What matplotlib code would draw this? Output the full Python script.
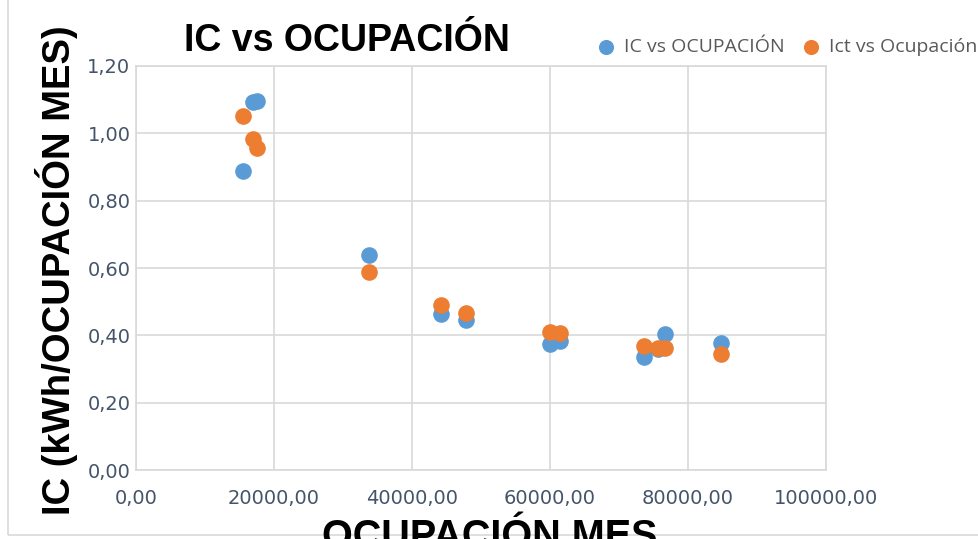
import matplotlib.pyplot as plt
from matplotlib.ticker import FuncFormatter, MultipleLocator
from matplotlib.patches import Rectangle

# Datos
ocupacion = [15500, 16950, 17550, 33750, 44200, 47850, 60000, 61450, 73600, 75650, 76650, 84800]
ic = [0.888, 1.093, 1.096, 0.639, 0.462, 0.446, 0.374, 0.383, 0.337, 0.360, 0.404, 0.376]
ict = [1.051, 0.983, 0.956, 0.588, 0.491, 0.467, 0.410, 0.406, 0.369, 0.362, 0.362, 0.345]

tick_font = ['DejaVu Sans Condensed', 'DejaVu Sans']
tick_color = '#44546A'
bold_font = ['Liberation Sans', 'DejaVu Sans']

fig = plt.figure(figsize=(9.79, 5.39), dpi=100)
ax = fig.add_axes([136 / 979, 1 - 470 / 539, 690 / 979, 404 / 539])

ax.scatter(ocupacion, ic, s=120, color='#5B9BD5', label='IC vs OCUPACIÓN', zorder=3)
ax.scatter(ocupacion, ict, s=120, color='#ED7D31', label='Ict vs Ocupación', zorder=4)

ax.set_xlim(0, 100000)
ax.set_ylim(0, 1.2)
ax.xaxis.set_major_locator(MultipleLocator(20000))
ax.yaxis.set_major_locator(MultipleLocator(0.2))
ax.xaxis.set_major_formatter(FuncFormatter(lambda v, p: f'{v:.2f}'.replace('.', ',')))
ax.yaxis.set_major_formatter(FuncFormatter(lambda v, p: f'{v:.2f}'.replace('.', ',')))
ax.grid(True, color='#D9D9D9', linewidth=1.2, zorder=0)
ax.set_axisbelow(True)
for s in ax.spines.values():
    s.set_color('#D9D9D9')
    s.set_linewidth(1.2)
ax.tick_params(length=0, colors=tick_color, labelsize=14)
ax.tick_params(axis='x', pad=14)
ax.tick_params(axis='y', pad=4)
for lab in ax.get_xticklabels() + ax.get_yticklabels():
    lab.set_family(tick_font)

# Etiquetas de ejes (grandes, superpuestas como en el original)
fig.text(57 / 979, 1 - 270 / 539, 'IC (kWh/OCUPACIÓN MES)', fontsize=27.5, fontweight='bold',
         rotation=90, ha='center', va='center', family=bold_font)
fig.text(490 / 979, 1 - 518 / 539, 'OCUPACIÓN MES', fontsize=28.5, fontweight='bold',
         ha='center', va='top', family=bold_font)

fig.text(347 / 979, 1 - 41 / 539, 'IC vs OCUPACIÓN', fontsize=27, fontweight='bold',
         ha='center', va='center', family=bold_font)

fig.legend(loc='center', bbox_to_anchor=(782 / 979, 1 - 47 / 539), ncol=2,
           frameon=False, handletextpad=-0.1, columnspacing=0.4,
           markerscale=0.9, labelcolor='#595959',
           prop={'family': ['Open Sans', 'DejaVu Sans'], 'size': 14})

fig.patches.append(Rectangle((8 / 979, 4 / 539), 1, 1, transform=fig.transFigure,
                             fill=False, edgecolor='#D9D9D9', linewidth=1.2))

fig.savefig('out.png', dpi=100)
